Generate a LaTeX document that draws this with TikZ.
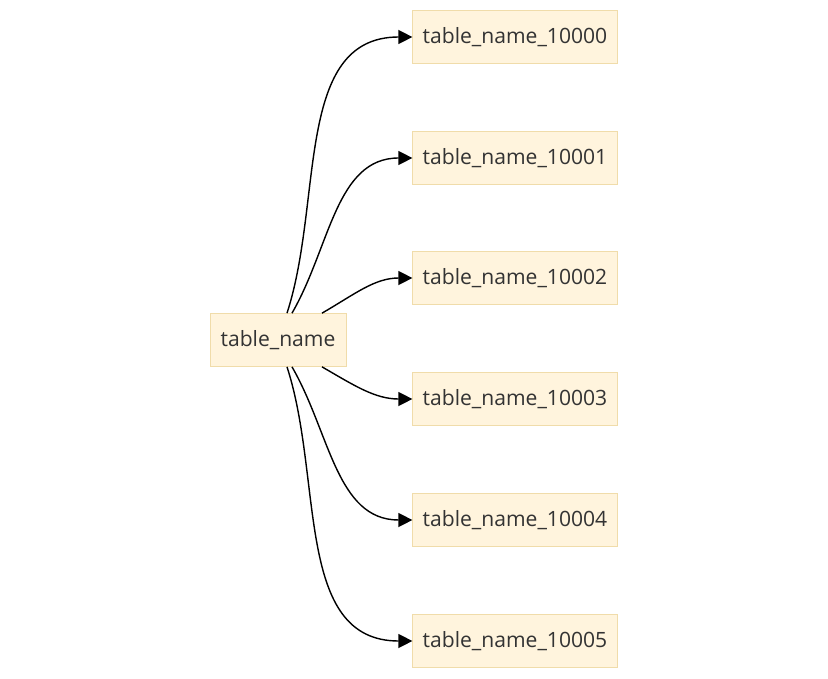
\documentclass[tikz,border=0pt]{standalone}
\usepackage{fontspec}
\setmainfont{Open Sans}
\usetikzlibrary{positioning, arrows.meta}

\definecolor{boxfill}{HTML}{FFF4DD}
\definecolor{boxline}{HTML}{F0DCAA}

\begin{document}
\begin{tikzpicture}[x=0.02cm, y=-0.02cm,
    tbl/.style={draw=boxline, fill=boxfill, minimum height=1.06cm, inner xsep=0.2cm, text=black!80, font=\fontsize{12}{14}\selectfont},
    link/.style={-{Triangle[length=8pt,width=8pt]}, thick, black}]
    \useasboundingbox (0,0) rectangle (828,679);

    % source table
    \node[tbl, minimum width=2.72cm] (src) at (278,340) {table\_name};

    % partitions
    \foreach \i/\y in {0/37,1/158,2/278,3/399,4/520,5/641}
        \node[tbl, minimum width=4.08cm] (t\i) at (515,\y) {table\_name\_1000\i};

    % start points on the source box
    \coordinate (s0) at ([xshift=0.18cm]src.north);
    \coordinate (s1) at ([xshift=0.28cm]src.north);
    \coordinate (s2) at ([xshift=0.88cm]src.north);
    \coordinate (s3) at ([xshift=0.88cm]src.south);
    \coordinate (s4) at ([xshift=0.28cm]src.south);
    \coordinate (s5) at ([xshift=0.18cm]src.south);

    % links
    \draw[link] (s0) to[out=72, in=180] (t0.west);
    \draw[link] (s1) to[out=60, in=180] (t1.west);
    \draw[link] (s2) to[out=30, in=180] (t2.west);
    \draw[link] (s3) to[out=-30, in=180] (t3.west);
    \draw[link] (s4) to[out=-60, in=180] (t4.west);
    \draw[link] (s5) to[out=-72, in=180] (t5.west);
\end{tikzpicture}
\end{document}
